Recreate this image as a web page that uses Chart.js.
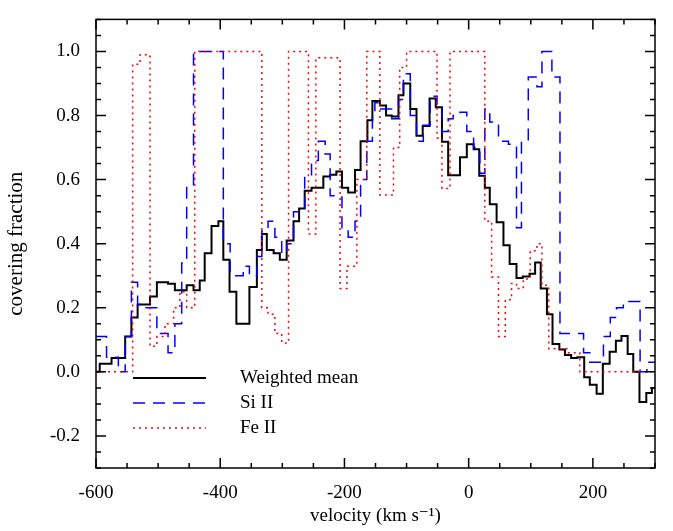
<!DOCTYPE html>
<html>
<head>
<meta charset="utf-8">
<script src="https://cdn.jsdelivr.net/npm/chart.js@4/dist/chart.umd.min.js"></script>
<style>
  html, body { margin: 0; padding: 0; background: #fff; }
  #wrap { width: 673px; height: 531px; }
</style>
</head>
<body>
<div id="wrap"><canvas id="chart"></canvas></div>
<script>
// step edges (km/s) and covering fractions
var meanEdges = [-600,-594,-575,-553,-543,-533,-513,-502,-484,-473,-462,-454,-443,-433,-425,-414,-403,-395,-385,-374,
  -353,-341,-333,-325,-314,-304,-293,-282,-273,-264,-253,-234,-223,-213,-204,-194,-183,-174,-163,-155,
  -143,-133,-124,-113,-105,-94,-84,-74,-63,-53,-43,-33,-14,-3,8,17,26,34,45,56,
  66,77,87,98,107,116,126,135,146,155,165,175,186,195,206,216,227,237,246,256,265,275,286,295,300];
var meanValues = [0.0,0.025,0.043,0.11,0.17,0.21,0.235,0.28,0.275,0.255,0.255,0.27,0.255,0.285,0.37,0.455,0.47,0.35,0.25,0.15,
  0.265,0.38,0.43,0.38,0.37,0.35,0.41,0.47,0.51,0.565,0.575,0.61,0.615,0.625,0.575,0.56,0.63,0.72,0.785,
  0.845,0.831,0.80,0.797,0.863,0.9,0.82,0.737,0.767,0.853,0.826,0.718,0.614,0.67,0.71,0.695,0.612,0.575,0.523,0.467,
  0.395,0.337,0.293,0.298,0.306,0.341,0.26,0.18,0.087,0.07,0.053,0.043,0.046,-0.017,-0.04,-0.068,0.025,0.063,0.097,0.112,
  0.056,0,-0.094,-0.066,-0.05];

var siEdges = [-600,-583,-564,-553,-543,-533,-521,-502,-484,-473,-462,-454,-443,-395,-384,-374,-363,-353,-341,-333,
  -323,-312,-301,-293,-282,-264,-253,-242,-231,-223,-204,-194,-183,-174,-164,-155,
  -151,-143,-124,-113,-105,-94,-84,-73,-62,-51,-43,-33,-25,-14,-3,8,18,26,34,48,
  64,77,85,96,110,118,134,147,185,195,217,228,238,249,276,287,300];
var siValues = [0.11,0.046,0,0.11,0.28,0.21,0.2,0.12,0.06,0.15,0.34,0.58,1.0,0.4,0.3,0.3,0.33,0.3,0.36,0.44,
  0.47,0.42,0.37,0.4,0.5,0.61,0.66,0.72,0.68,0.55,0.45,0.42,0.47,0.6,0.72,
  0.8,0.84,0.82,0.79,0.85,0.93,0.8,0.72,0.77,0.86,0.83,0.75,0.79,0.8,0.81,0.75,0.7,0.62,0.82,0.78,
  0.72,0.71,0.45,0.72,0.92,0.89,1.0,0.92,0.12,0.06,0.03,0.11,0.17,0.2,0.22,0.0,0.03];

var feEdges = [-600,-541,-529,-513,-502,-489,-475,-465,-454,-441,-333,-323,-312,-301,-290,-258,-246,-207,-196,-180,-164,
  -143,-121,-111,-100,-51,-43,-30,26,37,48,59,69,77,88,99,110,118,129,158,179,300];
var feValues = [0,0.96,0.99,0.08,0.11,0.15,0.2,0.25,0.2,1.0,0.2,0.18,0.12,0.09,1.0,0.43,0.98,0.26,0.33,0.6,
  1.0,0.552,0.7,0.95,1.0,0.73,0.572,1.0,0.47,0.296,0.11,0.225,0.276,0.26,0.29,0.378,0.4,0.27,0.072,0.06,0.0];

var legendLabels = ['Weighted mean', 'Si II', 'Fe II'];
var FONT = '"Liberation Serif", "DejaVu Serif", serif';

// point i+1 carries the value of the bin [edge i, edge i+1]; used with stepped 'after'
function stepPoints(edges, values) {
  var pts = [{x: edges[0], y: values[0]}];
  for (var i = 0; i < values.length; i++) pts.push({x: edges[i + 1], y: values[i]});
  return pts;
}

var series = [
  {label: legendLabels[2], data: stepPoints(feEdges, feValues), color: '#ff0000', dash: [2, 4], width: 1.5},
  {label: legendLabels[1], data: stepPoints(siEdges, siValues), color: '#0000ff', dash: [12, 8], width: 1.5},
  {label: legendLabels[0], data: stepPoints(meanEdges, meanValues), color: '#000000', dash: [], width: 2}
];

var framePlugin = {
  id: 'frame',
  afterDraw: function(chart) {
    var ctx = chart.ctx, a = chart.chartArea;
    var xs = chart.scales.x, ys = chart.scales.y;
    ctx.save();
    ctx.strokeStyle = '#000';
    ctx.lineWidth = 1.5;
    ctx.setLineDash([]);
    ctx.strokeRect(a.left, a.top, a.right - a.left, a.bottom - a.top);
    ctx.beginPath();
    for (var v = -600; v <= 300; v += 50) {
      var px = xs.getPixelForValue(v);
      var len = (v % 200 === 0) ? 10 : 5;
      ctx.moveTo(px, a.bottom); ctx.lineTo(px, a.bottom - len);
      ctx.moveTo(px, a.top); ctx.lineTo(px, a.top + len);
    }
    for (var k = -6; k <= 22; k++) {
      var f = k * 0.05;
      var py = ys.getPixelForValue(f);
      var l = (k % 4 === 0) ? 10 : 5;
      ctx.moveTo(a.left, py); ctx.lineTo(a.left + l, py);
      ctx.moveTo(a.right, py); ctx.lineTo(a.right - l, py);
    }
    ctx.stroke();

    // legend inside plot
    var lx0 = 133, lx1 = 206, tx = 240, ly = [378, 403, 428];
    var order = [2, 1, 0];
    ctx.font = '19px ' + FONT;
    ctx.textBaseline = 'middle';
    ctx.fillStyle = '#000';
    for (var i = 0; i < 3; i++) {
      var s = series[order[i]];
      ctx.strokeStyle = s.color;
      ctx.lineWidth = s.width;
      ctx.setLineDash(s.dash);
      ctx.beginPath();
      ctx.moveTo(lx0, ly[i]); ctx.lineTo(lx1, ly[i]);
      ctx.stroke();
      ctx.fillText(s.label, tx, ly[i]);
    }
    ctx.restore();
  }
};

new Chart(document.getElementById('chart'), {
  type: 'line',
  data: {
    datasets: series.map(function(s) {
      return {
        label: s.label, data: s.data, stepped: 'after',
        borderColor: s.color, borderWidth: s.width, borderDash: s.dash,
        pointRadius: 0, fill: false
      };
    })
  },
  options: {
    responsive: true,
    maintainAspectRatio: false,
    animation: false,
    layout: {padding: {top: 12, right: 18}},
    plugins: {legend: {display: false}, tooltip: {enabled: false}},
    scales: {
      x: {
        type: 'linear', min: -600, max: 300,
        grid: {display: false}, border: {display: false},
        afterBuildTicks: function(sc) {
          sc.ticks = [-600, -400, -200, 0, 200].map(function(v) { return {value: v}; });
        },
        afterFit: function(sc) { sc.height = 63; },
        ticks: {color: '#000', font: {family: FONT, size: 19}, padding: 6, maxRotation: 0},
        title: {display: true, text: 'velocity (km s\u207B\u00B9)', color: '#000', font: {family: FONT, size: 19}, padding: {top: 0}}
      },
      y: {
        min: -0.3, max: 1.1,
        grid: {display: false}, border: {display: false},
        afterBuildTicks: function(sc) {
          sc.ticks = [-0.2, 0, 0.2, 0.4, 0.6, 0.8, 1.0].map(function(v) { return {value: v}; });
        },
        afterFit: function(sc) { sc.width = 96; },
        ticks: {color: '#000', font: {family: FONT, size: 19}, padding: 8,
          callback: function(v) { return Number(v).toFixed(1); }},
        title: {display: true, text: 'covering fraction', color: '#000', font: {family: FONT, size: 21}, padding: {bottom: 4}}
      }
    }
  },
  plugins: [framePlugin]
});
</script>
</body>
</html>
